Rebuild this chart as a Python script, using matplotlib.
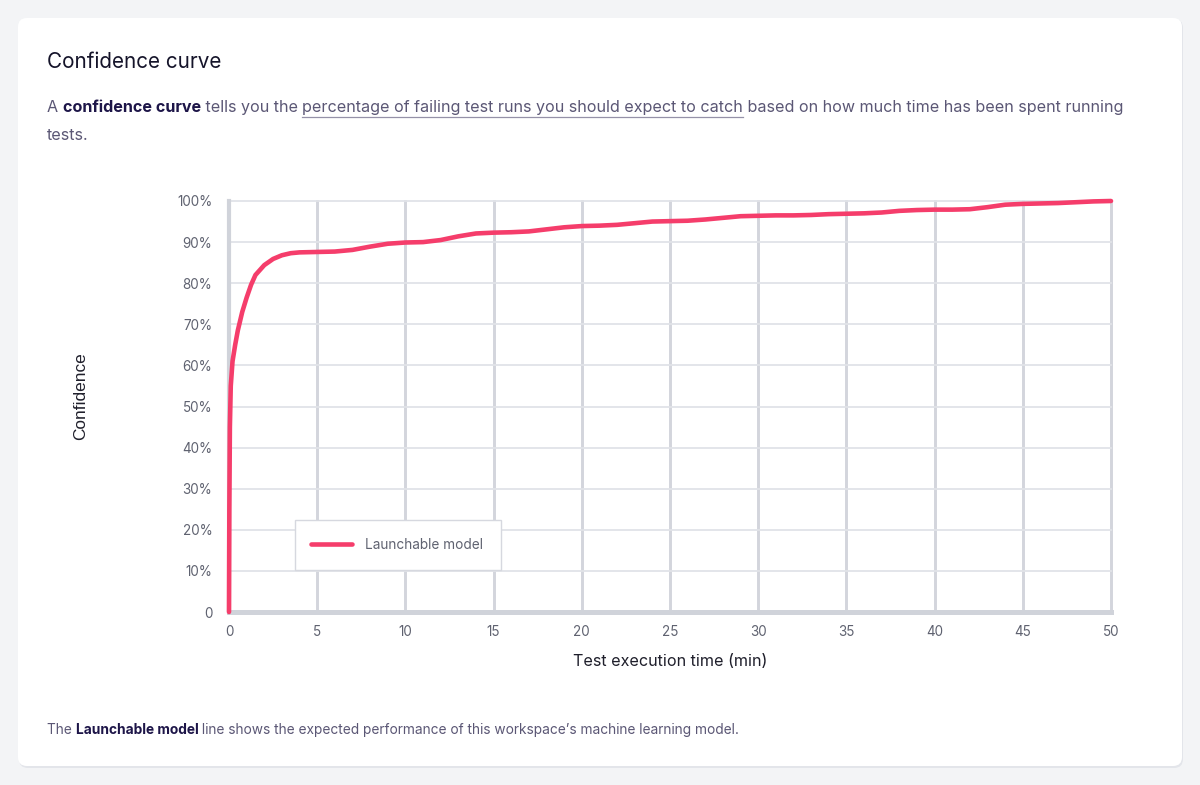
import matplotlib
matplotlib.use("Agg")
import matplotlib.pyplot as plt
from matplotlib.patches import FancyBboxPatch, Rectangle
from matplotlib.transforms import IdentityTransform
from matplotlib.lines import Line2D

# ---------------- data ----------------
time_min = [0, 0.02, 0.05, 0.1, 0.2, 0.35, 0.5, 0.75, 1.0, 1.25, 1.5, 2.0, 2.5,
            3.0, 3.5, 4.0, 5, 6, 7, 8, 9, 10, 11, 12, 13, 14, 15, 16, 17, 18,
            19, 20, 21, 22, 23, 24, 25, 26, 27, 28, 29, 30, 31, 32, 33, 34, 35,
            36, 37, 38, 39, 40, 41, 42, 43, 44, 45, 46, 47, 48, 49, 50]
confidence = [0, 25, 45, 55, 61, 65, 68.5, 73, 76.5, 79.6, 82.0, 84.4, 85.9,
              86.8, 87.3, 87.5, 87.6, 87.7, 88.1, 88.9, 89.6, 89.9, 90.0, 90.5,
              91.4, 92.1, 92.3, 92.4, 92.6, 93.1, 93.6, 93.9, 94.0, 94.2, 94.6,
              95.0, 95.1, 95.2, 95.5, 95.9, 96.3, 96.4, 96.5, 96.5, 96.6, 96.8,
              96.9, 97.0, 97.2, 97.6, 97.8, 97.9, 97.9, 98.0, 98.5, 99.1, 99.3,
              99.4, 99.5, 99.7, 99.9, 100]
series_name = "Launchable model"
x_ticks = [0, 5, 10, 15, 20, 25, 30, 35, 40, 45, 50]
y_ticks = [0, 10, 20, 30, 40, 50, 60, 70, 80, 90, 100]
y_tick_labels = ["0", "10%", "20%", "30%", "40%", "50%", "60%", "70%", "80%", "90%", "100%"]

title = "Confidence curve"
x_label = "Test execution time (min)"
y_label = "Confidence"

# ---------------- style ----------------
W, H = 1200, 785
FONT = "Inter"
plt.rcParams["font.family"] = [FONT, "DejaVu Sans"]
BG = "#f3f4f6"
LINE = "#f53d6b"
GRID_V = "#d3d5dc"
GRID_H = "#e1e3e8"
AXIS = "#d0d3da"
TICK = "#5f6270"
TXT = "#5b5775"
BOLD = "#1d1548"

fig = plt.figure(figsize=(W / 100, H / 100), dpi=100)
fig.patch.set_facecolor(BG)

# card with soft shadow
shadow = FancyBboxPatch((19, H - 768), 1164, 749,
                        boxstyle="round,pad=0,rounding_size=9",
                        transform=IdentityTransform(), facecolor="#e3e5ea",
                        edgecolor="none", zorder=-3)
card = FancyBboxPatch((18, H - 766), 1164, 748,
                      boxstyle="round,pad=0,rounding_size=9",
                      transform=IdentityTransform(), facecolor="white",
                      edgecolor="none", zorder=-2)
fig.patches.extend([shadow, card])

# ---------------- axes ----------------
L, R, T, B = 229, 1111, 201, 612
ax = fig.add_axes([L / W, (H - B) / H, (R - L) / W, (B - T) / H])
ax.set_zorder(1)
ax.set_facecolor("none")
ax.set_xlim(0, 50)
ax.set_ylim(0, 100)

for xv in x_ticks[1:]:
    ax.axvline(xv, color=GRID_V, lw=2.1, zorder=1, clip_on=False)
for yv in y_ticks[1:]:
    ax.axhline(yv, color=GRID_H, lw=1.3, zorder=1, clip_on=False)

for s in ["top", "right"]:
    ax.spines[s].set_visible(False)
ax.spines["left"].set_color(AXIS)
ax.spines["left"].set_linewidth(3.0)
ax.spines["bottom"].set_color(AXIS)
ax.spines["bottom"].set_linewidth(3.6)
ax.spines["left"].set_zorder(2)
ax.spines["bottom"].set_zorder(2)

ax.plot(time_min, confidence, color=LINE, lw=3.3, solid_capstyle="round",
        solid_joinstyle="round", zorder=5, clip_on=False, label=series_name)

ax.set_xticks(x_ticks)
ax.set_xticklabels([str(v) for v in x_ticks])
ax.set_yticks(y_ticks)
ax.set_yticklabels(y_tick_labels)
ax.tick_params(axis="both", length=0, labelsize=9.7, labelcolor=TICK)
ax.tick_params(axis="y", pad=12)
ax.tick_params(axis="x", pad=9)

ax.set_xlabel(x_label, fontsize=11.6, color="#1f1f2b", labelpad=11)
ax.set_ylabel(y_label, fontsize=12.4, color="#1f1f2b", labelpad=0,
              family=["Liberation Sans", "DejaVu Sans"])
ax.yaxis.set_label_coords((88 - L) / (R - L), (B - 396) / (B - T))

# legend: frame drawn as a box, entries by matplotlib's legend
to_ax = lambda xp, yp: ((xp - L) / (R - L), (B - yp) / (B - T))
bx0, by0 = to_ax(295, 570)
bx1, by1 = to_ax(501, 520)
ax.add_patch(Rectangle((bx0, by0), bx1 - bx0, by1 - by0, transform=ax.transAxes,
                       facecolor="white", edgecolor="#d6d8df", lw=1.0,
                       zorder=9, clip_on=False))
leg = ax.legend(loc="center left", bbox_to_anchor=to_ax(311, 545),
                frameon=False, fontsize=9.8, handlelength=3.0,
                handletextpad=0.95, borderpad=0, borderaxespad=0)
for t in leg.get_texts():
    t.set_color(TICK)
leg.set_zorder(10)

# ---------------- rich text helpers ----------------
renderer = fig.canvas.get_renderer()

def seg_width(s, size, weight):
    a = fig.text(0, 0, "x" + s + "x", fontsize=size, fontweight=weight,
                 transform=IdentityTransform())
    b = fig.text(0, 0, "xx", fontsize=size, fontweight=weight,
                 transform=IdentityTransform())
    w = a.get_window_extent(renderer).width - b.get_window_extent(renderer).width
    a.remove(); b.remove()
    return w

def rich(x, y_top, parts, size):
    cx = x
    for s, weight, color, underline in parts:
        fig.text(cx, H - y_top, s, fontsize=size, fontweight=weight,
                 color=color, va="baseline", ha="left",
                 transform=IdentityTransform())
        w = seg_width(s, size, weight)
        if underline:
            fig.add_artist(Line2D([cx, cx + w], [H - y_top - 4.5, H - y_top - 4.5],
                                  color="#9591a8", lw=0.9,
                                  transform=IdentityTransform()))
        cx += w

fig.text(47, H - 68, title, fontsize=14.9, color="#15142a",
         va="baseline", ha="left", transform=IdentityTransform())

rich(47, 112, [("A ", "normal", TXT, False),
               ("confidence curve", "bold", BOLD, False),
               (" tells you the ", "normal", TXT, False),
               ("percentage of failing test runs you should expect to catch", "normal", TXT, True),
               (" based on how much time has been spent running", "normal", TXT, False)],
     11.6)
rich(47, 140, [("tests.", "normal", TXT, False)], 11.6)

rich(47, 734, [("The ", "normal", TXT, False),
               ("Launchable model", "bold", BOLD, False),
               (" line shows the expected performance of this workspace\u2019s machine learning model.", "normal", TXT, False)],
     9.9)

fig.savefig("out.png", dpi=100, facecolor=BG)
